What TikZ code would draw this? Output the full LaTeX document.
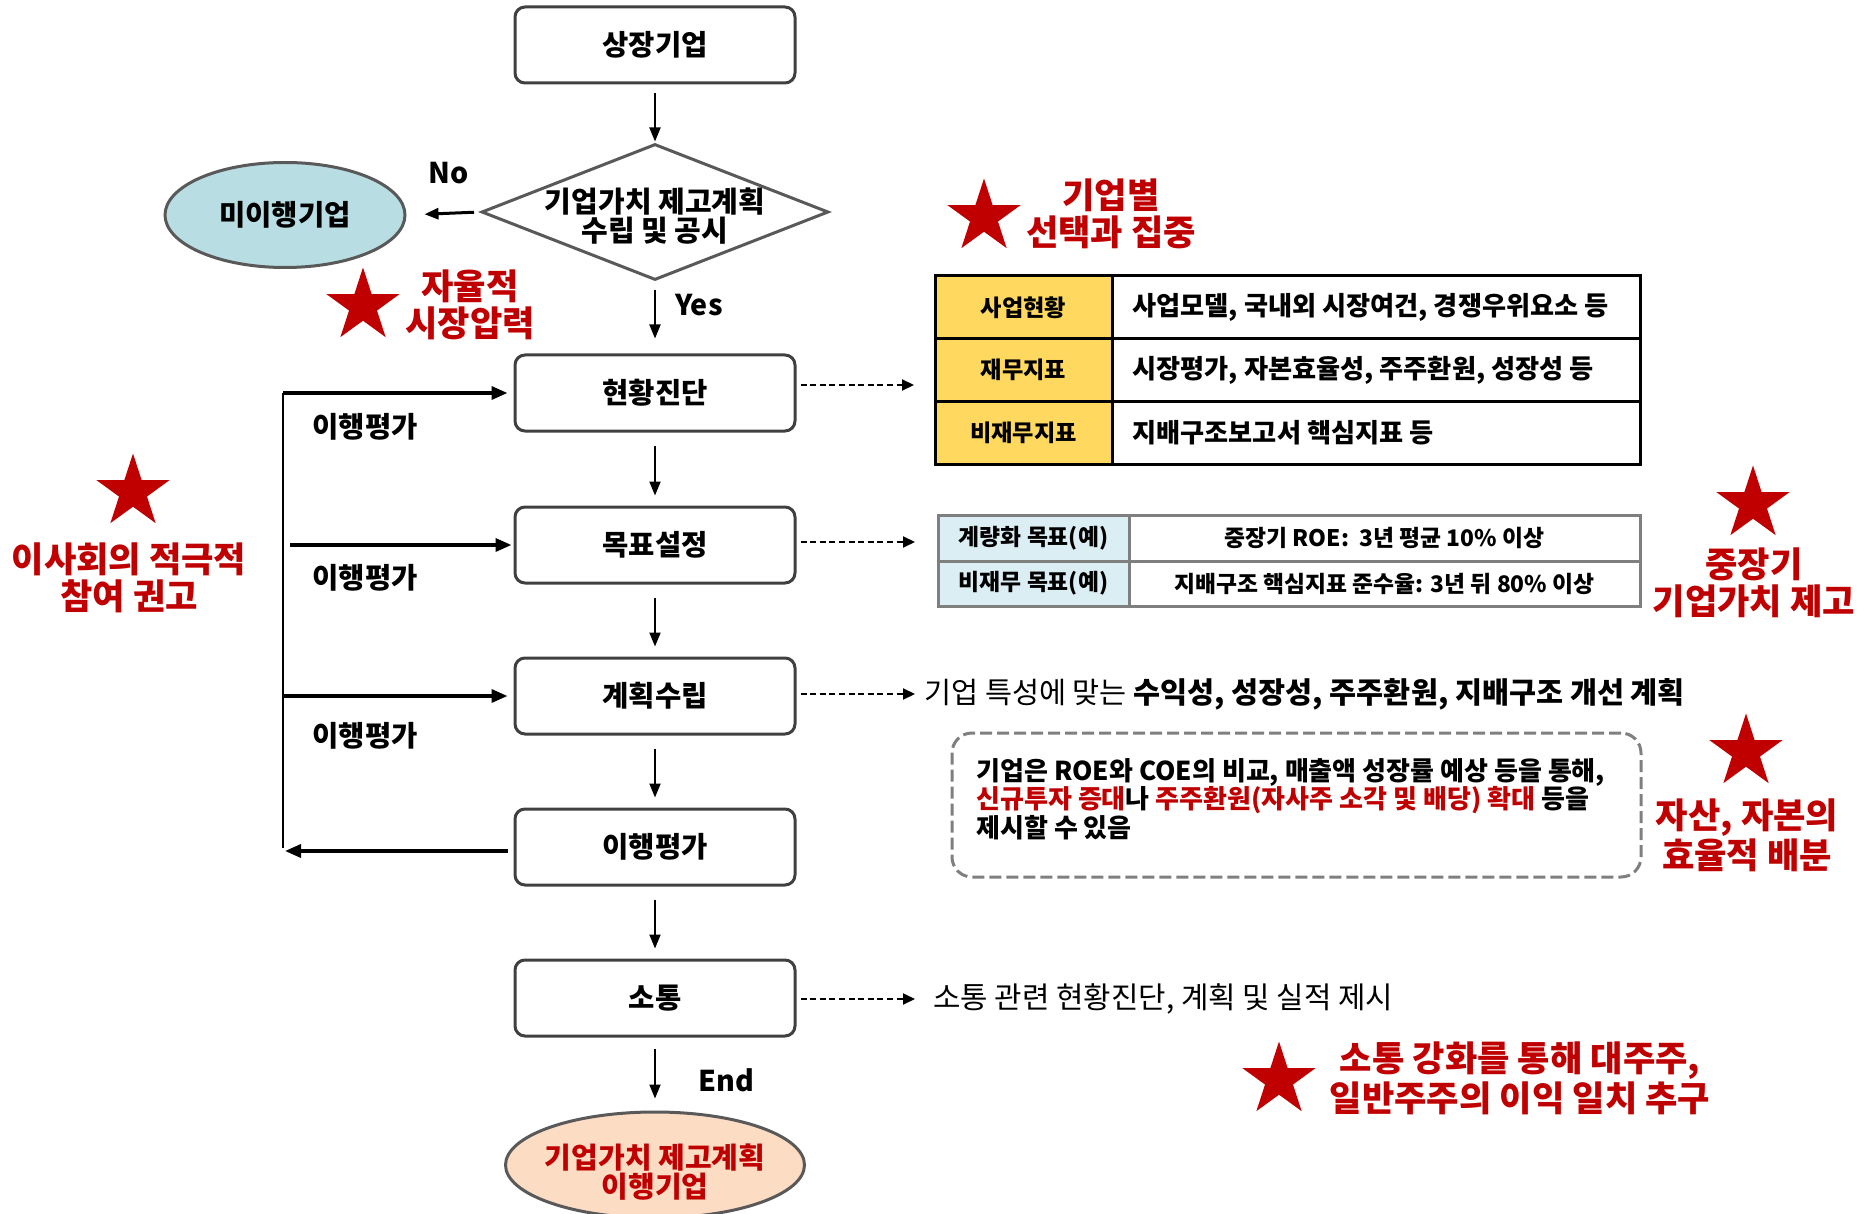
\documentclass[tikz,border=0pt]{standalone}
\usepackage{fontspec}
\setmainfont{Noto Sans CJK KR}
\usetikzlibrary{arrows.meta,shapes.geometric}
\definecolor{boxgray}{RGB}{64,64,64}
\definecolor{dgray}{RGB}{89,89,89}
\definecolor{tealfill}{RGB}{184,221,226}
\definecolor{peachfill}{RGB}{253,220,196}
\definecolor{myred}{RGB}{192,0,0}
\definecolor{yelfill}{RGB}{255,217,95}
\definecolor{bluefill}{RGB}{218,238,243}
\definecolor{tgray}{RGB}{127,127,127}
\newcommand\myfs[2]{\fontsize{#1}{#2}\selectfont}
\begin{document}
\begin{tikzpicture}[x=0.5pt,y=-0.5pt,
  box/.style={draw=boxgray, line width=1.5pt, rounded corners=5pt, minimum width=140pt, minimum height=38pt, inner sep=0pt, font=\bfseries\myfs{14.3}{16}},
  dia/.style={diamond, draw=dgray, line width=1.5pt, minimum width=173.5pt, minimum height=68pt, inner sep=0pt},
  oval/.style={ellipse, draw=dgray, line width=1.5pt, minimum width=120pt, minimum height=52.5pt, inner sep=0pt, font=\bfseries\myfs{14.3}{16}},
  arr/.style={line width=1pt, -{Triangle[length=7pt,width=5.5pt]}},
  looparr/.style={line width=1.75pt, -{Triangle[length=8pt,width=6.5pt]}},
  darr/.style={line width=1pt, dash pattern=on 3pt off 1.8pt, -{Triangle[length=6pt,width=5.5pt]}},
  redtxt/.style={text=myred, font=\bfseries\myfs{17.6}{18.5}, align=center, inner sep=0pt},
  bigstar/.style={star, star points=5, star point ratio=2.618, fill=myred, minimum size=38.5pt, inner sep=0pt},
  lab/.style={font=\bfseries\myfs{14.3}{16}, inner sep=0pt},
  tabA/.style={font=\bfseries\myfs{11.6}{13}, inner sep=0pt},
  tabB/.style={font=\bfseries\myfs{13.1}{15}, inner sep=0pt, anchor=west},
  tabC/.style={font=\bfseries\myfs{11.4}{13}, inner sep=0pt},
  dtxt/.style={font=\bfseries\myfs{13}{14}, inner sep=0pt, anchor=west},
  dbox/.style={draw=tgray, line width=1.5pt, dash pattern=on 6pt off 2.5pt, rounded corners=10pt, minimum width=344.5pt, minimum height=72pt, inner sep=0pt}
]
\useasboundingbox (0,0) rectangle (1859,1214);

% main flow
\node[box] (n1) at (655,45) {상장기업};
\node[dia] (d) at (655,212) {};
\node[font=\bfseries\myfs{14.5}{13}, align=center, inner sep=0pt] (dt) at (655,216) {기업가치 제고계획\\수립 및 공시};
\node[oval, fill=tealfill] (e1) at (285,215) {미이행기업};
\node[box] (h1) at (655,393) {현황진단};
\node[box] (h2) at (655,545) {목표설정};
\node[box] (h3) at (655,696) {계획수립};
\node[box] (h4) at (655,847) {이행평가};
\node[box] (h5) at (655,998) {소통};
\node[oval, fill=peachfill, minimum width=149.5pt, minimum height=53pt] (e2) at (655,1165) {};
\node[text=myred, align=center, font=\bfseries\myfs{14.5}{12.5}, inner sep=0pt] (e2t) at (655,1172) {기업가치 제고계획\\이행기업};

\draw[arr, shorten <=4.5pt, shorten >=0.5pt] (n1) -- (d);
\draw[arr, shorten <=4pt, shorten >=7.5pt] (d) -- (h1);
\draw[arr, shorten <=6.5pt, shorten >=5pt] (h1) -- (h2);
\draw[arr, shorten <=6.5pt, shorten >=5pt] (h2) -- (h3);
\draw[arr, shorten <=6.5pt, shorten >=5pt] (h3) -- (h4);
\draw[arr, shorten <=6.5pt, shorten >=5pt] (h4) -- (h5);
\draw[arr, shorten <=5.5pt, shorten >=6pt] (h5) -- (e2);
\draw[arr, line width=1.5pt, shorten <=3pt, shorten >=9pt] (d.west) -- (e1.east);

\node[lab] (no) at (449,173) {No};
\node[lab] (yes) at (699,305) {Yes};
\node[lab] (end) at (726,1080) {End};

% feedback loop
\coordinate (lt) at (283,393);
\coordinate (lb) at (283,848);
\draw[line width=1pt] (lt) -- (lb);
\draw[looparr, shorten >=3pt] (lt) -- (h1.west);
\draw[looparr, shorten >=1pt] ([xshift=3.5pt]lt |- h2.west) -- (h2.west);
\draw[looparr, shorten >=3pt] (lt |- h3.west) -- (h3.west);
\draw[looparr, shorten <=3pt, shorten >=1pt] ([yshift=-2pt]h4.west) -- ([yshift=-2pt]lb |- h4.west);
\node[lab] (ev1) at (365,427) {이행평가};
\node[lab] (ev2) at (365,578) {이행평가};
\node[lab] (ev3) at (365,736) {이행평가};

% table 1
\fill[yelfill] (935,276) rectangle (1112,464);
\draw[line width=1.5pt] (1112,276) -- (1112,464);
\draw[line width=1.5pt] (935,339) -- (1640,339);
\draw[line width=1.5pt] (935,401) -- (1640,401);
\draw[line width=1.5pt] (935,276) rectangle (1640,464);
\node[tabA] (t1a) at (1023.5,307.5) {사업현황};
\node[tabA] (t2a) at (1023.5,370) {재무지표};
\node[tabA] (t3a) at (1023.5,432.5) {비재무지표};
\node[tabB] (t1b) at (1132,307.5) {사업모델, 국내외 시장여건, 경쟁우위요소 등};
\node[tabB] (t2b) at (1132,370) {시장평가, 자본효율성, 주주환원, 성장성 등};
\node[tabB] (t3b) at (1132,432.5) {지배구조보고서 핵심지표 등};
\coordinate (tab1w) at (935,385);

% table 2
\fill[bluefill] (938,515) rectangle (1129,606);
\draw[tgray, line width=1.5pt] (1129,515) -- (1129,606);
\draw[tgray, line width=1.5pt] (938,561) -- (1640,561);
\draw[tgray, line width=1.5pt] (938,515) rectangle (1640,606);
\node[tabC] (u1a) at (1033.5,538) {계량화 목표(예)};
\node[tabC] (u2a) at (1033.5,583.5) {비재무 목표(예)};
\node[tabC] (u1b) at (1384.5,538) {중장기 ROE:\ \ 3년 평균 10\% 이상};
\node[tabC] (u2b) at (1384.5,583.5) {지배구조 핵심지표 준수율: 3년 뒤 80\% 이상};
\coordinate (tab2w) at (938,542);

% dashed arrows
\draw[darr, shorten <=2pt, shorten >=10.5pt] ([yshift=4pt]h1.east) -- (tab1w);
\draw[darr, shorten <=2pt, shorten >=11.5pt] ([yshift=1.5pt]h2.east) -- (tab2w);
\node[font=\myfs{14.7}{16}, inner sep=0pt, anchor=west] (t3) at (924,694) {기업 특성에 맞는 {\bfseries 수익성, 성장성, 주주환원, 지배구조 개선 계획}};
\draw[darr, shorten <=2pt, shorten >=4.5pt] ([yshift=1pt]h3.east) -- (t3.west);
\node[font=\myfs{14.9}{16}, inner sep=0pt, anchor=west] (t5) at (933,999) {소통 관련 현황진단, 계획 및 실적 제시};
\draw[darr, shorten <=2pt, shorten >=9pt] ([yshift=-0.5pt]h5.east) -- (t5.west);

% dashed box
\node[dbox] (db) at (1296.5,805) {};
\node[dtxt] (dl1) at (976,772) {기업은 ROE와 COE의 비교, 매출액 성장률 예상 등을 통해,};
\node[dtxt] (dl2) at (976,800) {\textcolor{myred}{신규투자 증대}나 \textcolor{myred}{주주환원(자사주 소각 및 배당) 확대} 등을};
\node[dtxt] (dl3) at (976,828) {제시할 수 있음};

% stars and red notes
\node[bigstar] (s1) at (363,306) {};
\node[redtxt] (r1) at (470,304.5) {자율적\\시장압력};
\node[bigstar] (s2) at (984,217) {};
\node[redtxt] (r2) at (1111,213.5) {기업별\\선택과 집중};
\node[bigstar] (s3) at (133,492) {};
\node[redtxt] (r3) at (129,578) {이사회의 적극적\\참여 권고};
\node[bigstar] (s4) at (1753,504) {};
\node[redtxt] (r4) at (1754,582.5) {중장기\\기업가치 제고};
\node[bigstar] (s5) at (1746,752) {};
\node[redtxt] (r5) at (1747,835.5) {자산, 자본의\\효율적 배분};
\node[bigstar] (s6) at (1279,1080) {};
\node[redtxt] (r6) at (1520,1078.5) {소통 강화를 통해 대주주,\\일반주주의 이익 일치 추구};
\end{tikzpicture}
\end{document}
